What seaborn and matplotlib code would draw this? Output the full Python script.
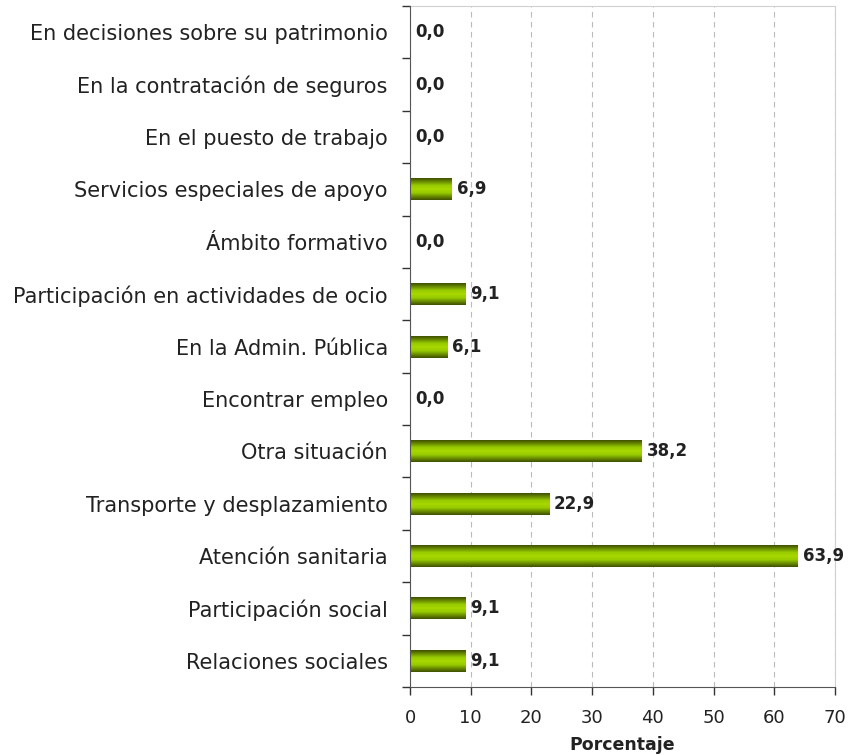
import numpy as np
import pandas as pd
import seaborn as sns
import matplotlib.pyplot as plt
from matplotlib.colors import LinearSegmentedColormap

# ==================== DATA ====================

categories = [
    "En decisiones sobre su patrimonio",
    "En la contratación de seguros",
    "En el puesto de trabajo",
    "Servicios especiales de apoyo",
    "Ámbito formativo",
    "Participación en actividades de ocio",
    "En la Admin. Pública",
    "Encontrar empleo",
    "Otra situación",
    "Transporte y desplazamiento",
    "Atención sanitaria",
    "Participación social",
    "Relaciones sociales",
]
values = [0.0, 0.0, 0.0, 6.9, 0.0, 9.1, 6.1, 0.0, 38.2, 22.9, 63.9, 9.1, 9.1]
x_ticks = [0, 10, 20, 30, 40, 50, 60, 70]

df = pd.DataFrame({"cat": categories, "val": values})

# ==================== PLOT ====================

sns.set_style("white")
plt.rcParams["font.family"] = ["DejaVu Sans"]
plt.rcParams["ytick.left"] = True
plt.rcParams["xtick.bottom"] = True

fig = plt.figure(figsize=(8.48, 7.55), dpi=100)
ax = fig.add_axes([0.4835, 0.0901, 0.5012, 0.9019])

sns.barplot(data=df, x="val", y="cat", orient="h", color="#8DB600",
            width=0.42, ax=ax, zorder=3)

# gradient fill for each bar (dark edges, bright centre)
grad_cmap = LinearSegmentedColormap.from_list(
    "olive", ["#3F5000", "#6B8E00", "#99CC00", "#A8D800", "#99CC00",
              "#6B8E00", "#3F5000"])
grad = np.linspace(0, 1, 64).reshape(-1, 1)
for p in ax.patches:
    x0, y0 = p.get_x(), p.get_y()
    w, h = p.get_width(), p.get_height()
    p.set_facecolor("none")
    p.set_edgecolor("none")
    p.set_linewidth(0)
    if w <= 0:
        continue
    im = ax.imshow(grad, cmap=grad_cmap, aspect="auto",
                   extent=(x0, x0 + w, y0 + h, y0), zorder=3)
    im.set_clip_path(p)

for i, v in enumerate(values):
    ax.text(v + 0.8, i, f"{v:.1f}".replace(".", ","), va="center", ha="left",
            fontsize=12, fontweight="bold", color="#222222", zorder=4)

ax.set_xlim(0, 70)
ax.set_ylim(len(categories) - 0.5, -0.5)
ax.set_xticks(x_ticks)
ax.set_xticklabels([str(t) for t in x_ticks], fontsize=13, color="#222222")
ax.set_yticks(range(len(categories)))
ax.set_yticklabels(categories, fontsize=15, color="#222222")
ax.tick_params(axis="y", which="major", length=0, pad=16)
ax.set_yticks(np.arange(-0.5, len(categories), 1), minor=True)
ax.tick_params(axis="y", which="minor", left=True, length=6, width=1,
               direction="out", color="#333333")
ax.tick_params(axis="x", length=6, width=1, direction="out", color="#333333", pad=10)

ax.set_xlabel("Porcentaje", fontsize=12.5, fontweight="bold", color="#222222",
              labelpad=6)
ax.set_ylabel("")

ax.grid(axis="x", linestyle=(0, (5, 4)), color="#BBBBBB", linewidth=0.8, zorder=0)
ax.set_axisbelow(True)

for side in ["top", "right"]:
    ax.spines[side].set_color("#D0D0D0")
for side in ["left", "bottom"]:
    ax.spines[side].set_color("#555555")
    ax.spines[side].set_zorder(5)

plt.savefig("out.png", dpi=100)
plt.close()
